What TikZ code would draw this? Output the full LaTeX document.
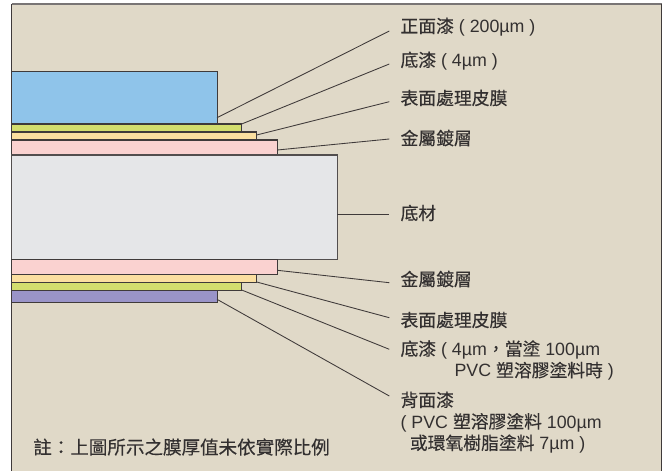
\documentclass[tikz,border=0pt]{standalone}
\usepackage{fontspec}
\setmainfont{Liberation Sans}
\newfontfamily\cjk{Noto Sans CJK TC}[FakeBold=0.25]
\newcommand{\cj}[1]{{\cjk #1}}
\definecolor{bgc}{HTML}{E0D9C8}
\definecolor{edgec}{HTML}{3F3A3A}
\definecolor{bluec}{HTML}{8FC4EA}
\definecolor{greenc}{HTML}{D3DE6E}
\definecolor{yelc}{HTML}{FBDFA0}
\definecolor{pinkc}{HTML}{FAD2D0}
\definecolor{greyc}{HTML}{E5E6E8}
\definecolor{purc}{HTML}{9A94C8}
\definecolor{textc}{HTML}{333030}
\tikzset{
  x=0.75pt,y=-0.75pt,
  layer/.style n args={2}{draw=edgec,line width=0.8pt,anchor=north west,inner sep=0pt,outer sep=0pt,minimum width=#1,minimum height=#2},
  lead/.style={draw=edgec,line width=0.65pt},
  lab/.style={anchor=west,inner sep=0pt,text=textc,font=\fontsize{13.35pt}{16.1pt}\selectfont,align=left},
}
\begin{document}
\begin{tikzpicture}
\useasboundingbox (0,0) rectangle (662,471);
\fill[white] (0,0) rectangle (662,471);
\fill[bgc] (11.5,4) rectangle (661.5,471);
\draw[edgec!70,line width=0.8pt] (11.5,4) -- (661.5,4);
\draw[edgec,line width=0.8pt] (11.5,471) -- (11.5,4);
\draw[edgec,line width=0.8pt] (661.5,4) -- (661.5,471);
\node[layer={154.3pt}{39.4pt},fill=bluec] (top) at (11.5,71.5) {};
\node[layer={172.35pt}{6pt},fill=greenc] (pr1) at (11.5,124) {};
\node[layer={183.6pt}{6pt},fill=yelc] (sf1) at (11.5,132) {};
\node[layer={199.35pt}{11.25pt},fill=pinkc] (me1) at (11.5,140) {};
\node[layer={244.35pt}{78.2pt},fill=greyc,draw=edgec!90] (sub) at (11.5,155) {};
\node[layer={199.35pt}{11.4pt},fill=pinkc] (me2) at (11.5,259.5) {};
\node[layer={183.6pt}{5.7pt},fill=yelc] (sf2) at (11.5,274.7) {};
\node[layer={172.35pt}{6pt},fill=greenc] (pr2) at (11.5,282.3) {};
\node[layer={154.3pt}{9.3pt},fill=purc] (bk) at (11.5,290.3) {};
\node[lab] (l1) at (400.3,27) {\cj{正面漆} ( 200µm )};
\node[lab] (l2) at (400.3,61) {\cj{底漆} ( 4µm )};
\node[lab] (l3) at (400.3,98) {\cj{表面處理皮膜}};
\node[lab] (l4) at (400.3,138) {\cj{金屬鍍層}};
\node[lab] (l5) at (400.3,213) {\cj{底材}};
\node[lab] (l6) at (400.3,279) {\cj{金屬鍍層}};
\node[lab] (l7) at (400.3,320) {\cj{表面處理皮膜}};
\node[lab] (l8) at (400.3,360.5) {\cj{底漆} ( 4µm\cj{，當塗} 100µm\\\hspace*{40.5pt}PVC \cj{塑溶膠塗料時} )};
\node[lab] (l9) at (400.3,422.5) {\cj{背面漆}\\( PVC \cj{塑溶膠塗料} 100µm\\\hspace*{7pt}\cj{或環氧樹脂塗料} 7µm )};
\node[lab,font=\fontsize{13.9pt}{16pt}\selectfont] (note) at (33,447) {\cj{註：上圖所示之膜厚值未依實際比例}};
\coordinate (s1) at (217,117.7);\coordinate (s2) at (241.7,124);\coordinate (s3) at (256.7,135);\coordinate (s4) at (277.3,150);
\coordinate (s6) at (277.3,270.3);\coordinate (s7) at (256.7,282);\coordinate (s8) at (241.7,290);\coordinate (s9) at (217,299.3);
\coordinate (e1) at (389.3,31);\coordinate (e2) at (389.3,64);\coordinate (e3) at (389.3,101.7);\coordinate (e4) at (389.3,139);
\coordinate (e5) at (389.3,214);\coordinate (e6) at (389.3,282.7);\coordinate (e7) at (389.3,317.7);\coordinate (e8) at (389.3,349.3);\coordinate (e9) at (389.3,396);
\draw[lead] (s1) -- (e1);
\draw[lead] (s2) -- (e2);
\draw[lead] (s3) -- (e3);
\draw[lead] (s4) -- (e4);
\draw[lead] (sub.east |- e5) -- (e5);
\draw[lead] (s6) -- (e6);
\draw[lead] (s7) -- (e7);
\draw[lead] (s8) -- (e8);
\draw[lead] (s9) -- (e9);
\end{tikzpicture}
\end{document}
